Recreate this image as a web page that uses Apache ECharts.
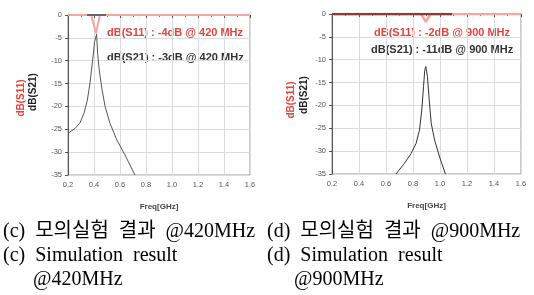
<!DOCTYPE html>
<html><head><meta charset="utf-8">
<script src="https://cdn.jsdelivr.net/npm/echarts@6/dist/echarts.min.js"></script>
<style>html,body{margin:0;padding:0;background:#fff}#c{width:534px;height:295px}</style>
</head><body><div id="c"></div>
<script>
// ---- data ----
const xTicks = [0.2, 0.4, 0.6, 0.8, 1.0, 1.2, 1.4, 1.6];
const yTicks = [0, -5, -10, -15, -20, -25, -30, -35];
// (c) 420 MHz
const s21Left = [[0.2,-25.9],[0.254,-24.8],[0.292,-23.6],[0.323,-21.5],[0.349,-18.6],[0.369,-14.9],[0.39,-9.8],[0.405,-5.8],[0.42,-4.2],[0.428,-8.4],[0.44,-12],[0.46,-16],[0.485,-20],[0.523,-23.7],[0.575,-27.3],[0.638,-30.6],[0.715,-35]];
const s11Left = [[0.2,0],[0.378,0],[0.415,-4],[0.446,0],[1.6,0]];
const markerLeft = [[0.346,0],[0.492,0]];
// (d) 900 MHz
const s21Right = [[0.674,-35],[0.736,-32.7],[0.786,-30.5],[0.823,-28.3],[0.848,-25.4],[0.865,-21],[0.878,-15.9],[0.887,-12.3],[0.895,-11.5],[0.907,-13.7],[0.92,-18.8],[0.935,-23.9],[0.96,-27.6],[0.997,-31.3],[1.04,-35]];
const s11Right = [[0.2,0],[0.86,0],[0.895,-1.7],[0.93,0],[1.6,0]];
const markerRight = [[0.2,0],[1.09,0]];
const annLeft = ['dB(S11) : -4dB @ 420 MHz', 'dB(S21) : -3dB @ 420 MHz'];
const annRight = ['dB(S11) : -2dB @ 900 MHz', 'dB(S21) : -11dB @ 900 MHz'];
const captions = ['(c)  모의실험  결과  @420MHz', '(d)  모의실험  결과  @900MHz', '(c)  Simulation  result', '(d)  Simulation  result', '@420MHz', '@900MHz'];

const RED = '#e8423c', PINK = '#f4a6a2';
const sans = "'Liberation Sans', Arial, sans-serif";
const serif = "'Liberation Serif', 'Noto Sans CJK KR', serif";

function xAx(i){return {gridIndex:i,type:'value',min:0.2,max:1.6,interval:0.2,
  axisLine:{show:true,lineStyle:{color:'#555',width:1}},
  axisTick:{show:true,length:3,lineStyle:{color:'#555'}},
  minorTick:{show:true,splitNumber:2,length:2,lineStyle:{color:'#777'}},
  splitLine:{show:true,lineStyle:{color:'#dcdcdc',width:1}},
  axisLabel:{fontSize:7.5,color:'#555',fontFamily:sans,margin:6,formatter:v=>v.toFixed(1)},
  name:'Freq[GHz]',nameLocation:'middle',nameGap:28,nameTextStyle:{fontSize:8,fontWeight:'bold',color:'#444',fontFamily:sans}};}
function yAx(i){return {gridIndex:i,type:'value',min:-35,max:0,interval:5,
  axisLine:{show:true,lineStyle:{color:'#555',width:1}},
  axisTick:{show:true,length:3,lineStyle:{color:'#555'}},
  splitLine:{show:true,lineStyle:{color:'#dcdcdc',width:1}},
  axisLabel:{fontSize:7.5,color:'#555',fontFamily:sans,margin:6}};}

function line(i,data,color,w){return {type:'line',xAxisIndex:i,yAxisIndex:i,data:data,showSymbol:false,symbol:'none',
  lineStyle:{color:color,width:w},animation:false,silent:true};}

const chart = echarts.init(document.getElementById('c'));
const txt=(x,y,t,o)=>Object.assign({type:'text',left:x,top:y,style:Object.assign({text:t,fill:'#000',fontFamily:sans,fontSize:11,fontWeight:'bold'},o||{})});
const rot=(x,y,t,c)=>({type:'text',x:x,y:y,rotation:Math.PI/2,style:{text:t,fill:c,fontFamily:sans,fontSize:10,fontWeight:'bold',align:'center',verticalAlign:'middle'}});
const cap=(x,y,t)=>txt(x,y,t,{fontFamily:serif,fontSize:20,fontWeight:'normal'});
chart.setOption({
  animation:false,
  grid:[{left:68,top:15,width:182,height:160,show:true,borderColor:'#999',borderWidth:1},
        {left:332,top:14,width:189,height:160,show:true,borderColor:'#999',borderWidth:1}],
  xAxis:[xAx(0),xAx(1)],
  yAxis:[yAx(0),yAx(1)],
  series:[
    line(0,s21Left,'#555',1),
    line(0,s11Left,PINK,2),
    line(0,markerLeft,'#666',2),
    line(1,s21Right,'#333',1),
    line(1,s11Right,PINK,2.5),
    line(1,markerRight,'#8a3b35',2.5)
  ],
  graphic:[
    txt(107,27,annLeft[0],{fill:RED}),
    txt(107,52,annLeft[1],{fill:'#333'}),
    txt(374,27,annRight[0],{fill:RED}),
    txt(371,44,annRight[1],{fill:'#333'}),
    rot(21,98,'dB(S11)',RED),
    rot(33,92,'dB(S21)','#222'),
    rot(291,100,'dB(S11)',RED),
    rot(304,95,'dB(S21)','#222'),
    cap(3,222,captions[0]),
    cap(267,222,captions[1]),
    cap(3,246,captions[2]),
    cap(267,246,captions[3]),
    cap(33,270,captions[4]),
    cap(294,270,captions[5])
  ]
});
</script></body></html>
